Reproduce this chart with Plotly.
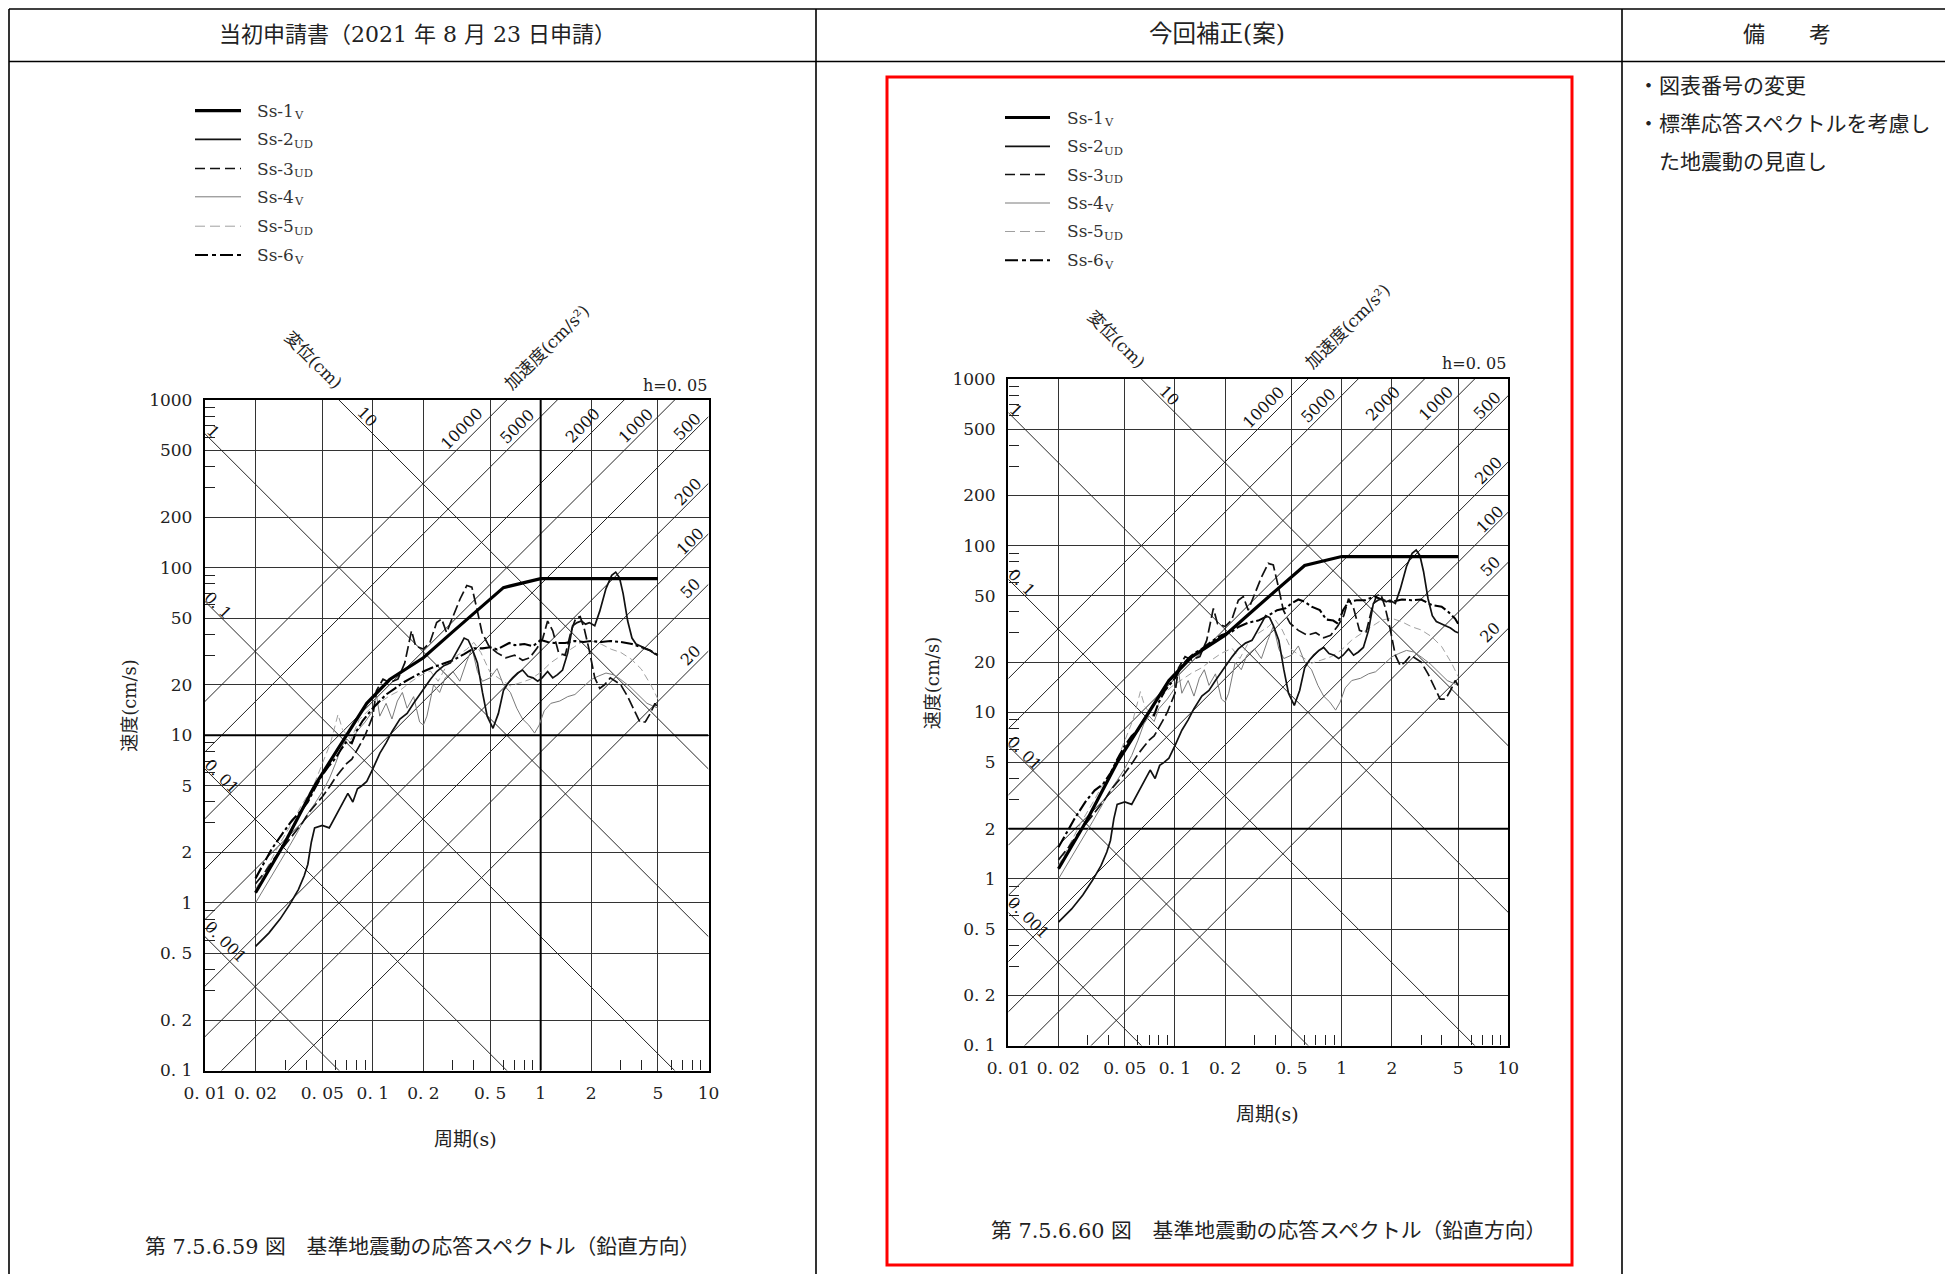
import numpy as np
import plotly.graph_objects as go

# ------------------------------------------------------------------ data
PERIOD_TICKS = [0.01, 0.02, 0.05, 0.1, 0.2, 0.5, 1, 2, 5, 10]
PERIOD_TICKTEXT = ["0. 01", "0. 02", "0. 05", "0. 1", "0. 2", "0. 5", "1", "2", "5", "10"]
VEL_TICKS = [0.1, 0.2, 0.5, 1, 2, 5, 10, 20, 50, 100, 200, 500, 1000]
VEL_TICKTEXT = ["0. 1", "0. 2", "0. 5", "1", "2", "5", "10", "20", "50", "100", "200", "500", "1000"]
PERIOD_MINOR = [0.03, 0.04, 0.06, 0.07, 0.08, 0.09, 0.3, 0.4, 0.6, 0.7, 0.8, 0.9, 3, 4, 6, 7, 8, 9]
VEL_MINOR = [0.3, 0.4, 0.6, 0.7, 0.8, 0.9, 3, 4, 6, 7, 8, 9, 30, 40, 60, 70, 80, 90,
             300, 400, 600, 700, 800, 900]

DISP_LINES = [0.001, 0.01, 0.1, 1, 10]              # cm
DISP_LABELS = ["0. 001", "0. 01", "0. 1", "1", "10"]
ACC_LINES = [10000, 5000, 2000, 1000, 500, 200, 100, 50, 20]   # cm/s2
ACC_LABELS = ["10000", "5000", "2000", "1000", "500", "200", "100", "50", "20"]

SERIES = ["Ss-1V", "Ss-2UD", "Ss-3UD", "Ss-4V", "Ss-5UD", "Ss-6V"]
SERIES_MAIN = ["Ss-1", "Ss-2", "Ss-3", "Ss-4", "Ss-5", "Ss-6"]
SERIES_SUB = ["V", "UD", "UD", "V", "UD", "V"]

T_SS1 = [0.02, 0.03, 0.045, 0.07, 0.092, 0.126, 0.2, 0.3, 0.6, 1.0, 5.0]
V_SS1 = [1.15, 2.3, 5.0, 10.0, 15.5, 21.5, 29.0, 41.5, 76.0, 86.0, 86.0]

T_SS2 = [0.02, 0.024, 0.028, 0.032, 0.036, 0.039, 0.041, 0.043, 0.045, 0.05, 0.055, 0.06,
         0.066, 0.071, 0.076, 0.081, 0.086, 0.092, 0.1, 0.11, 0.12, 0.13, 0.145, 0.16, 0.175,
         0.19, 0.205, 0.22, 0.24, 0.265, 0.29, 0.315, 0.335, 0.35, 0.37, 0.39, 0.42, 0.45,
         0.48, 0.52, 0.56, 0.6, 0.64, 0.68, 0.73, 0.78, 0.84, 0.9, 0.96, 1.02, 1.1, 1.18,
         1.26, 1.35, 1.45, 1.55, 1.65, 1.75, 1.85, 1.95, 2.1, 2.25, 2.45, 2.65, 2.8, 2.95,
         3.1, 3.3, 3.5, 3.7, 3.9, 4.2, 4.5, 4.8, 5.0]
V_SS2 = [0.55, 0.66, 0.8, 0.98, 1.2, 1.45, 1.7, 2.3, 2.8, 2.9, 2.8, 3.3,
         3.9, 4.5, 4.0, 4.8, 5.0, 5.3, 6.3, 7.8, 9.0, 10.5, 12.5, 13.5, 15.5,
         17.5, 19.5, 21.5, 24.0, 26.0, 27.0, 31.0, 35.0, 38.0, 37.0, 33.0, 27.0, 18.0,
         13.0, 11.0, 13.5, 18.5, 20.5, 22.0, 23.5, 24.5, 22.5, 22.0, 21.0, 22.0, 24.0, 22.0,
         23.0, 24.5, 31.0, 45.0, 47.0, 48.0, 46.0, 47.0, 45.0, 55.0, 75.0, 90.0, 94.0, 87.0,
         70.0, 48.0, 38.0, 35.0, 34.0, 33.0, 32.0, 30.5, 30.0]

T_SS3 = [0.02, 0.023, 0.026, 0.03, 0.034, 0.038, 0.042, 0.046, 0.05, 0.055, 0.06, 0.065,
         0.07, 0.075, 0.08, 0.085, 0.09, 0.095, 0.1, 0.105, 0.115, 0.126, 0.141, 0.155,
         0.17, 0.18, 0.2, 0.219, 0.24, 0.257, 0.275, 0.302, 0.331, 0.363, 0.389, 0.417,
         0.447, 0.49, 0.55, 0.62, 0.7, 0.78, 0.86, 0.95, 1.03, 1.1, 1.18, 1.28, 1.4, 1.52,
         1.62, 1.72, 1.82, 1.95, 2.1, 2.25, 2.4, 2.6, 2.8, 3.0, 3.3, 3.6, 3.9, 4.2, 4.5,
         4.8, 5.0]
V_SS3 = [1.3, 1.55, 1.85, 2.2, 2.6, 3.0, 3.5, 3.9, 4.3, 4.9, 5.6, 6.2,
         6.8, 7.2, 8.0, 9.0, 10.0, 11.5, 13.0, 18.4, 21.6, 20.6, 21.6, 27.0,
         42.0, 34.0, 32.7, 35.8, 47.0, 49.4, 41.0, 51.8, 65.0, 78.3, 76.5, 56.8,
         41.0, 34.2, 31.0, 29.0, 30.0, 28.0, 29.0, 33.0, 38.0, 48.0, 42.0, 31.0, 30.0, 42.0,
         50.0, 51.0, 43.0, 32.0, 22.0, 19.0, 20.0, 22.0, 21.0, 20.0, 17.0, 14.0, 12.0, 12.0, 13.5,
         15.5, 14.5]

T_SS4 = [0.02, 0.024, 0.028, 0.032, 0.036, 0.04, 0.045, 0.05, 0.055, 0.06, 0.065, 0.07,
         0.075, 0.08, 0.09, 0.1, 0.105, 0.11, 0.12, 0.13, 0.14, 0.15, 0.16, 0.175, 0.19,
         0.2, 0.21, 0.23, 0.25, 0.27, 0.3, 0.33, 0.36, 0.39, 0.42, 0.45, 0.5, 0.55, 0.6,
         0.66, 0.72, 0.78, 0.85, 0.92, 0.98, 1.05, 1.15, 1.3, 1.45, 1.6, 1.8, 2.0, 2.2,
         2.45, 2.7, 3.0, 3.4, 3.8, 4.3, 5.0]
V_SS4 = [1.0, 1.35, 1.75, 2.2, 2.7, 3.3, 3.9, 4.6, 5.5, 6.8, 8.5, 9.5,
         8.8, 10.5, 12.0, 14.0, 17.5, 13.0, 15.5, 12.5, 16.0, 18.0, 14.5, 17.0, 12.0,
         11.5, 13.0, 20.0, 18.0, 22.0, 24.0, 21.0, 27.0, 33.0, 24.0, 21.0, 22.0, 25.0, 20.0,
         18.0, 14.5, 12.5, 11.5, 10.3, 11.5, 14.0, 15.5, 16.0, 17.0, 17.5, 19.5, 21.5, 22.5,
         23.5, 23.0, 21.5, 19.5, 17.5, 15.5, 14.5]

T_SS5 = [0.02, 0.0275, 0.033, 0.038, 0.044, 0.05, 0.056, 0.062, 0.066, 0.074, 0.083, 0.095,
         0.11, 0.126, 0.145, 0.166, 0.19, 0.22, 0.245, 0.275, 0.316, 0.363, 0.4, 0.44, 0.5,
         0.57, 0.66, 0.76, 0.87, 1.0, 1.15, 1.32, 1.51, 1.74, 2.0, 2.3, 2.63, 3.0, 3.47,
         3.98, 4.57, 5.0]
V_SS5 = [1.2, 2.2, 3.0, 3.9, 4.9, 6.8, 9.0, 13.3, 10.8, 9.4, 12.4, 14.2,
         15.6, 17.2, 18.5, 20.6, 22.6, 24.2, 21.0, 26.0, 29.8, 32.6, 35.8, 31.2, 23.7,
         21.6, 19.7, 20.6, 21.6, 23.7, 27.1, 29.8, 32.6, 35.8, 36.6, 34.9, 32.6, 31.2, 28.4,
         24.8, 19.7, 16.4]

# Ss-6V in the original application (left figure)
T_SS6_BEFORE = [0.02, 0.025, 0.029, 0.033, 0.037, 0.041, 0.045, 0.05, 0.055, 0.06, 0.065,
                0.07, 0.075, 0.08, 0.087, 0.095, 0.1, 0.11, 0.12, 0.135, 0.15, 0.17, 0.2,
                0.23, 0.26, 0.3, 0.35, 0.4, 0.45, 0.5, 0.55, 0.6, 0.65, 0.7, 0.8, 0.9, 1.0,
                1.1, 1.2, 1.4, 1.6, 1.8, 2.0, 2.3, 2.6, 3.0, 3.5, 4.0, 4.5, 5.0]
V_SS6_BEFORE = [1.4, 2.1, 2.6, 3.1, 3.5, 4.0, 4.8, 5.8, 6.6, 7.3, 8.3,
                9.2, 9.0, 10.6, 12.2, 13.6, 14.5, 16.0, 17.5, 19.0, 20.5, 22.0, 24.0,
                25.5, 26.5, 28.0, 30.5, 33.0, 33.0, 33.5, 32.5, 34.0, 35.5, 34.5, 35.0, 34.0, 37.0,
                36.0, 35.5, 35.5, 36.5, 36.0, 36.5, 36.0, 36.5, 36.0, 35.0, 33.5, 32.0, 30.0]

# Ss-6V in the revised version (right figure)
T_SS6_AFTER = [0.02, 0.025, 0.029, 0.033, 0.037, 0.041, 0.045, 0.05, 0.055, 0.06, 0.065,
               0.07, 0.075, 0.08, 0.087, 0.095, 0.1, 0.11, 0.12, 0.13, 0.145, 0.165, 0.19,
               0.22, 0.24, 0.275, 0.316, 0.363, 0.41, 0.46, 0.5, 0.55, 0.6, 0.66, 0.74, 0.81,
               0.89, 0.95, 1.02, 1.1, 1.23, 1.38, 1.58, 1.78, 2.0, 2.3, 2.63, 3.0, 3.47, 3.98,
               4.37, 4.79, 5.0]
V_SS6_AFTER = [1.55, 2.3, 2.9, 3.4, 3.7, 4.3, 5.2, 6.3, 7.2, 7.8, 9.0,
               10.0, 9.6, 11.5, 13.5, 15.0, 16.0, 19.0, 21.0, 22.5, 24.0, 26.5, 29.0,
               30.5, 32.5, 34.5, 35.5, 38.0, 41.0, 42.0, 45.0, 47.5, 46.0, 43.0, 41.0, 36.0,
               35.5, 34.0, 41.0, 46.0, 47.0, 47.0, 49.5, 47.0, 46.0, 47.5, 47.0, 47.5, 44.0, 43.0,
               40.0, 36.5, 34.0]

# ------------------------------------------------------------------ page geometry
# page is 1953 x 1282; the browser adds an 8 px body margin around the figure
PAGE_W, PAGE_H, OFF = 1953, 1282, 8
W, H = PAGE_W - 2 * OFF, PAGE_H - 2 * OFF


def fx(p):
    return (p - OFF) / W


def fy(p):
    return 1 - (p - OFF) / H


def to_px(T, V, box):
    x0, x1, y0, y1 = box
    return (x0 + (np.log10(T) + 2) / 3 * (x1 - x0),
            y1 - (np.log10(V) + 1) / 4 * (y1 - y0))


CHARTS = {
    "left": dict(x="x", y="y", xa="xaxis", ya="yaxis", box=(205, 708.5, 400, 1070.5),
                 ss6=(T_SS6_BEFORE, V_SS6_BEFORE), bold_h=[10], bold_v=[1],
                 leg_x=(195, 241, 255), leg_y=[110.7, 139.3, 168.5, 196.8, 226.2, 255.0],
                 caption="第 7.5.6.59 図　基準地震動の応答スペクトル（鉛直方向）",
                 cap_xy=(422, 1247)),
    "right": dict(x="x2", y="y2", xa="xaxis2", ya="yaxis2", box=(1008.3, 1508.3, 379, 1045.5),
                  ss6=(T_SS6_AFTER, V_SS6_AFTER), bold_h=[2], bold_v=[],
                  leg_x=(1005, 1050, 1065), leg_y=[117.5, 146.3, 174.5, 203.0, 231.5, 260.3],
                  caption="第 7.5.6.60 図　基準地震動の応答スペクトル（鉛直方向）",
                  cap_xy=(1268, 1231)),
}

STYLE = {
    "Ss-1V": dict(color="#000000", width=3.2, dash="solid", leg="solid"),
    "Ss-2UD": dict(color="#111111", width=1.7, dash="solid", leg="solid"),
    "Ss-3UD": dict(color="#111111", width=1.7, dash="11px,4px", leg="10px,5px"),
    "Ss-4V": dict(color="#7a7a7a", width=1.0, dash="solid", leg="solid"),
    "Ss-5UD": dict(color="#a0a0a0", width=1.0, dash="7px,4px", leg="10px,5px"),
    "Ss-6V": dict(color="#000000", width=2.1, dash="12px,3px,3px,3px", leg="13px,4px,4px,4px"),
}
DRAW_ORDER = ["Ss-5UD", "Ss-4V", "Ss-3UD", "Ss-6V", "Ss-2UD", "Ss-1V"]

SERIF = "DejaVu Serif, Noto Sans CJK JP, serif"
CJK = "Noto Sans CJK JP, sans-serif"
TXT = "#222222"
LEG_SIZE = 17
LEG_MAIN_W = 2.13 * LEG_SIZE   # advance width of "Ss-n" in DejaVu Serif

# label anchor points (period, velocity) for the diagonal scales
DISP_POS = {0.001: (0.01316, 0.586), 0.01: (0.01257, 5.65), 0.1: (0.0120, 59.8),
            1: (0.01112, 647), 10: (0.0922, 795)}
ACC_POS = {10000: (0.339, 678), 5000: (0.726, 693), 2000: (1.774, 709), 1000: (3.69, 709),
           500: (7.48, 693), 200: (7.6, 283), 100: (7.77, 143), 50: (7.77, 75.2), 20: (7.77, 30.1)}

fig = go.Figure()
annotations = []
shapes = []


def note(xp, yp, text, size, family=SERIF, angle=0, xanchor="center", color=TXT):
    annotations.append(dict(x=fx(xp), y=fy(yp), xref="paper", yref="paper", text=text,
                            showarrow=False, textangle=angle, xanchor=xanchor, yanchor="middle",
                            font=dict(family=family, size=size, color=color)))


T_EDGE = [0.01, 10.0]

for name, c in CHARTS.items():
    xr, yr = c["x"], c["y"]
    box = c["box"]
    x0, x1, y0, y1 = box
    # tripartite diagonals
    for d in DISP_LINES:
        fig.add_trace(go.Scatter(x=T_EDGE, y=[2 * np.pi * d / t for t in T_EDGE], mode="lines",
                                 line=dict(color="#262626", width=1), xaxis=xr, yaxis=yr,
                                 showlegend=False, hoverinfo="skip"))
    for a in ACC_LINES:
        fig.add_trace(go.Scatter(x=T_EDGE, y=[a * t / (2 * np.pi) for t in T_EDGE], mode="lines",
                                 line=dict(color="#262626", width=1), xaxis=xr, yaxis=yr,
                                 showlegend=False, hoverinfo="skip"))
    # darker grid lines (as in the scanned figure)
    for v in c["bold_h"]:
        fig.add_trace(go.Scatter(x=T_EDGE, y=[v, v], mode="lines", line=dict(color="#000", width=2),
                                 xaxis=xr, yaxis=yr, showlegend=False, hoverinfo="skip"))
    for t in c["bold_v"]:
        fig.add_trace(go.Scatter(x=[t, t], y=[0.1, 1000], mode="lines", line=dict(color="#000", width=2),
                                 xaxis=xr, yaxis=yr, showlegend=False, hoverinfo="skip"))

    data = {
        "Ss-1V": (T_SS1, V_SS1), "Ss-2UD": (T_SS2, V_SS2), "Ss-3UD": (T_SS3, V_SS3),
        "Ss-4V": (T_SS4, V_SS4), "Ss-5UD": (T_SS5, V_SS5), "Ss-6V": c["ss6"],
    }
    for s in DRAW_ORDER:
        t, v = data[s]
        st = STYLE[s]
        fig.add_trace(go.Scatter(x=t, y=v, mode="lines", name=s,
                                 line=dict(color=st["color"], width=st["width"], dash=st["dash"]),
                                 xaxis=xr, yaxis=yr, showlegend=False))

    # diagonal scale labels
    for d, lab in zip(DISP_LINES, DISP_LABELS):
        px_, py_ = to_px(*DISP_POS[d], box)
        note(px_, py_, lab, 16, angle=45, color="#111")
    for a, lab in zip(ACC_LINES, ACC_LABELS):
        px_, py_ = to_px(*ACC_POS[a], box)
        note(px_, py_, lab, 16, angle=-45, color="#111")
    # diagonal axis names and damping
    px_, py_ = to_px(0.0443, 1733, box)
    note(px_, py_, "変位(cm)", 17, angle=45)
    px_, py_ = to_px(1.09, 2080, box)
    note(px_, py_, "加速度(cm/s²)", 17, angle=-45)
    note(x1, y0 - 15, "h=0. 05", 16, xanchor="right")
    # axis titles
    note(x0 - 75, to_px(1, 15, box)[1], "速度(cm/s)", 18, angle=-90)
    note(to_px(0.357, 1, box)[0], y1 + 68, "周期(s)", 19)
    # caption
    note(c["cap_xy"][0], c["cap_xy"][1], c["caption"], 20.8)
    # legend drawn as in the figure
    lx0, lx1, ltx = c["leg_x"]
    for s, main, sub, ly in zip(SERIES, SERIES_MAIN, SERIES_SUB, c["leg_y"]):
        st = STYLE[s]
        shapes.append(dict(type="line", xref="paper", yref="paper", x0=fx(lx0), x1=fx(lx1),
                           y0=fy(ly), y1=fy(ly),
                           line=dict(color=st["color"], width=st["width"], dash=st["leg"])))
        note(ltx, ly, main, LEG_SIZE, xanchor="left", color="#333")
        note(ltx + LEG_MAIN_W + 0.5, ly + 4.5, sub, 11.5, xanchor="left", color="#333")

# ------------------------------------------------------------------ table frame
TABLE_LINE = dict(color="#000", width=1.6)
TOP, HEAD, LEFT, DIV1, DIV2 = 9, 61.5, 9, 816, 1622
shapes += [
    dict(type="line", xref="paper", yref="paper", x0=fx(LEFT), x1=1, y0=fy(TOP), y1=fy(TOP), line=TABLE_LINE),
    dict(type="line", xref="paper", yref="paper", x0=fx(LEFT), x1=1, y0=fy(HEAD), y1=fy(HEAD), line=TABLE_LINE),
    dict(type="line", xref="paper", yref="paper", x0=fx(LEFT), x1=fx(LEFT), y0=fy(TOP), y1=0, line=TABLE_LINE),
    dict(type="line", xref="paper", yref="paper", x0=fx(DIV1), x1=fx(DIV1), y0=fy(TOP), y1=0, line=TABLE_LINE),
    dict(type="line", xref="paper", yref="paper", x0=fx(DIV2), x1=fx(DIV2), y0=fy(TOP), y1=0, line=TABLE_LINE),
    dict(type="rect", xref="paper", yref="paper", x0=fx(887), x1=fx(1572), y0=fy(1265), y1=fy(77),
         line=dict(color="#ff0000", width=3)),
]

note(417, 34, "当初申請書（2021 年 8 月 23 日申請）", 22)
note(1217, 34, "今回補正(案)", 23.5)
note(1787, 34, "備　　考", 22)
note(1636, 84, "・図表番号の変更", 21, family=CJK, xanchor="left")
note(1636, 122, "・標準応答スペクトルを考慮し", 21, family=CJK, xanchor="left")
note(1657, 160, "た地震動の見直し", 21, family=CJK, xanchor="left")

# ------------------------------------------------------------------ axes
layout_axes = {}
for name, c in CHARTS.items():
    x0, x1, y0, y1 = c["box"]
    common = dict(type="log", showline=True, mirror=True, linewidth=2.4, linecolor="#000",
                  showgrid=True, gridcolor="#333333", gridwidth=1, ticks="", zeroline=False,
                  automargin=False, tickmode="array",
                  tickfont=dict(family=SERIF, size=17, color=TXT))
    layout_axes[c["xa"]] = dict(common, domain=[fx(x0), fx(x1)], range=[-2, 1],
                                anchor=c["y"], tickvals=PERIOD_TICKS, ticktext=PERIOD_TICKTEXT,
                                ticklabelstandoff=6,
                                minor=dict(tickmode="array", tickvals=PERIOD_MINOR, ticks="inside",
                                           ticklen=10, tickcolor="#222", tickwidth=1, showgrid=False))
    layout_axes[c["ya"]] = dict(common, domain=[fy(y1), fy(y0)], range=[-1, 3],
                                anchor=c["x"], tickvals=VEL_TICKS, ticktext=VEL_TICKTEXT,
                                ticklabelstandoff=7,
                                minor=dict(tickmode="array", tickvals=VEL_MINOR, ticks="inside",
                                           ticklen=10, tickcolor="#222", tickwidth=1, showgrid=False))

fig.update_layout(
    template="none",
    width=W, height=H, autosize=False,
    margin=dict(l=0, r=0, t=0, b=0, pad=0, autoexpand=False),
    paper_bgcolor="white", plot_bgcolor="white",
    showlegend=False,
    annotations=annotations, shapes=shapes,
    **layout_axes,
)

fig.write_html("out.html", config={"displayModeBar": False})
